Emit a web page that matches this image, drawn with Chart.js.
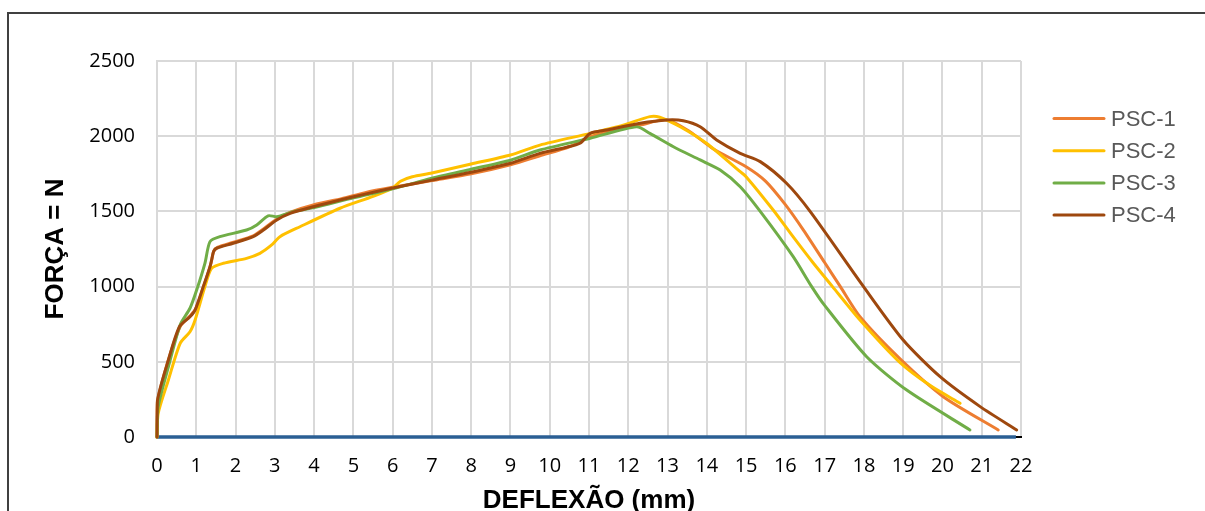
<!DOCTYPE html>
<html>
<head>
<meta charset="utf-8">
<script src="https://cdn.jsdelivr.net/npm/chart.js@4/dist/chart.umd.min.js"></script>
<style>
  html, body { margin: 0; padding: 0; background: #fff; overflow: hidden; }
  #wrap { position: relative; width: 1205px; height: 511px; }
  #frame { position: absolute; left: 7px; top: 12px; width: 1400px; height: 700px;
           border-left: 2px solid #404040; border-top: 2px solid #404040; }
  canvas { position: absolute; left: 0; top: 0; }
</style>
</head>
<body>
<div id="wrap">
  <div id="frame"></div>
  <canvas id="c" width="1205" height="511"></canvas>
</div>
<script>
// ---- data (deflection in mm, force in N) ----
const seriesNames = ['PSC-1', 'PSC-2', 'PSC-3', 'PSC-4'];
const xTicks = [0,1,2,3,4,5,6,7,8,9,10,11,12,13,14,15,16,17,18,19,20,21,22];
const yTicks = [0, 500, 1000, 1500, 2000, 2500];

const psc1X = [0, 0.01, 0.3, 0.6, 0.86, 1.0, 1.2, 1.38, 1.45, 1.55, 1.95, 2.45, 2.72, 3.0, 3.4, 4.0, 4.7, 5.3, 6.0, 7.0, 8.0, 9.0, 9.75, 10.5, 11.03, 11.87, 12.3, 12.98, 13.57, 14.17, 15.0, 15.5, 16.0, 16.46, 17.0, 17.4, 17.9, 18.92, 20.02, 21.42];
const psc1Y = [0, 230, 520, 740, 810, 860, 1010, 1160, 1240, 1262, 1295, 1338, 1385, 1440, 1495, 1545, 1585, 1625, 1660, 1705, 1750, 1810, 1870, 1930, 1997, 2052, 2074, 2108, 2030, 1915, 1797, 1700, 1545, 1376, 1160, 1000, 800, 520, 268, 47];

const psc2X = [0, 0.03, 0.29, 0.59, 0.84, 0.97, 1.22, 1.39, 1.69, 2.28, 2.62, 2.92, 3.13, 3.64, 4.66, 5.5, 6.0, 6.2, 6.5, 7.0, 8.0, 9.0, 9.75, 11.03, 11.87, 12.55, 12.8, 13.32, 13.99, 14.85, 15.0, 15.69, 16.2, 16.7, 17.2, 17.9, 18.9, 19.7, 20.45];
const psc2Y = [0, 157, 379, 623, 700, 778, 1000, 1121, 1155, 1188, 1221, 1277, 1332, 1398, 1521, 1600, 1655, 1700, 1730, 1755, 1815, 1875, 1941, 2019, 2074, 2130, 2126, 2063, 1953, 1764, 1731, 1509, 1330, 1160, 1000, 778, 500, 340, 224];

const psc3X = [0, 0.03, 0.29, 0.59, 0.84, 1.01, 1.22, 1.35, 1.6, 2.28, 2.54, 2.83, 3.05, 3.47, 4.0, 5.0, 6.0, 7.0, 8.0, 9.0, 9.75, 11.03, 12.21, 12.55, 13.15, 13.83, 14.34, 14.85, 15.36, 16.2, 16.67, 17.0, 18.07, 19.09, 20.7];
const psc3Y = [0, 201, 467, 745, 856, 977, 1155, 1299, 1332, 1376, 1410, 1471, 1465, 1498, 1525, 1590, 1650, 1720, 1780, 1840, 1908, 1986, 2063, 2019, 1930, 1842, 1775, 1664, 1500, 1199, 1000, 875, 534, 312, 47];

const psc4X = [0, 0.01, 0.29, 0.57, 0.84, 0.97, 1.18, 1.35, 1.39, 1.44, 1.52, 1.94, 2.45, 2.71, 3.05, 3.39, 3.98, 4.66, 5.3, 6.0, 7.0, 8.0, 9.0, 9.75, 10.4, 10.77, 11.03, 11.45, 12.3, 12.98, 13.4, 13.83, 14.25, 14.85, 15.36, 16.03, 16.63, 17.99, 19.0, 19.94, 20.96, 21.89];
const psc4Y = [0, 240, 512, 733, 800, 844, 1000, 1132, 1177, 1232, 1255, 1288, 1332, 1376, 1443, 1487, 1531, 1576, 1615, 1655, 1708, 1760, 1820, 1886, 1925, 1953, 2019, 2041, 2086, 2108, 2103, 2063, 1975, 1886, 1831, 1687, 1500, 1000, 645, 401, 202, 47];

const baseX = [0, 21.87];
const baseY = [0, 0];

const colors = ['#ED7D31', '#FFC000', '#70AD47', '#9E480E'];
const baseColor = '#2B5F94';

function pts(xs, ys) { return xs.map((x, i) => ({ x: x, y: ys[i] })); }

const seriesData = [pts(psc1X, psc1Y), pts(psc2X, psc2Y), pts(psc3X, psc3Y), pts(psc4X, psc4Y)];

const datasets = seriesData.map((d, i) => ({
  label: seriesNames[i],
  data: d,
  borderColor: colors[i],
  backgroundColor: colors[i],
  borderWidth: 3,
  borderCapStyle: 'round',
  borderJoinStyle: 'round',
  showLine: true,
  pointRadius: 0,
  tension: 0.25,
  clip: false,
  order: 3 - i
}));
datasets.push({
  label: '',
  data: pts(baseX, baseY),
  borderColor: baseColor,
  backgroundColor: baseColor,
  borderWidth: 3.5,
  showLine: true,
  pointRadius: 0,
  clip: false,
  order: 4
});

const legendPlugin = {
  id: 'sideLegend',
  afterDraw(chart) {
    const ctx = chart.ctx;
    const items = chart.data.datasets.filter(d => d.label);
    items.forEach((d, i) => {
      const y = 118.5 + i * 32.2;
      ctx.save();
      ctx.strokeStyle = d.borderColor;
      ctx.lineWidth = 3;
      ctx.lineCap = 'round';
      ctx.beginPath();
      ctx.moveTo(1054, y);
      ctx.lineTo(1104, y);
      ctx.stroke();
      ctx.fillStyle = '#595959';
      ctx.font = '22px "Liberation Sans", Arial, sans-serif';
      ctx.textBaseline = 'middle';
      ctx.textAlign = 'left';
      ctx.fillText(d.label, 1111, y + 1);
      ctx.restore();
    });
  }
};

new Chart(document.getElementById('c'), {
  type: 'scatter',
  data: { datasets: datasets },
  plugins: [legendPlugin],
  options: {
    responsive: false,
    animation: false,
    devicePixelRatio: 1,
    layout: { padding: { left: 0, right: 184, top: 61, bottom: 0 } },
    plugins: { legend: { display: false }, tooltip: { enabled: false } },
    scales: {
      x: {
        type: 'linear',
        min: xTicks[0],
        max: xTicks[xTicks.length - 1],
        afterBuildTicks(scale) { scale.ticks = xTicks.map(v => ({ value: v })); },
        afterFit(scale) { scale.height = 74; },
        grid: { color: '#D9D9D9', lineWidth: 2, drawTicks: false },
        border: { display: true, color: '#000', width: 2 },
        ticks: { padding: 17, color: '#000', font: { family: '"Open Sans", sans-serif', size: 20 }, maxRotation: 0, autoSkip: false,
                 callback: v => String(v) },
        title: { display: true, text: 'DEFLEXÃO (mm)', color: '#000',
                 font: { family: '"Liberation Sans", Arial, sans-serif', size: 26, weight: 'bold', lineHeight: 0.75 },
                 padding: { top: 0, bottom: 0 } }
      },
      y: {
        type: 'linear',
        min: yTicks[0],
        max: yTicks[yTicks.length - 1],
        afterBuildTicks(scale) { scale.ticks = yTicks.map(v => ({ value: v })); },
        afterFit(scale) { scale.width = 157; },
        grid: { color: '#D9D9D9', lineWidth: 2, drawTicks: false },
        border: { display: true, color: '#D9D9D9', width: 2 },
        ticks: { padding: 22, color: '#000', font: { family: '"Open Sans", sans-serif', size: 20 },
                 callback: v => String(v) },
        title: { display: true, text: 'FORÇA = N', color: '#000',
                 font: { family: '"Liberation Sans", Arial, sans-serif', size: 26, weight: 'bold', lineHeight: 0.75 },
                 padding: { top: 46, bottom: 0 } }
      }
    }
  }
});
</script>
</body>
</html>
